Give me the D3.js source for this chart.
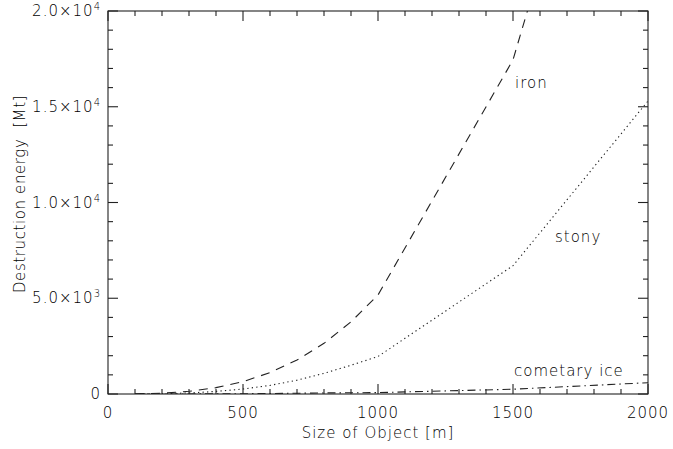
<!DOCTYPE html>
<html>
<head>
<meta charset="utf-8">
<script src="https://cdn.jsdelivr.net/npm/d3@7"></script>
<style>
  html, body { margin: 0; padding: 0; background: #fff; }
  svg text { font-family: "DejaVu Sans", sans-serif; font-weight: 200; fill: #000; letter-spacing: 1px; }
</style>
</head>
<body>
<svg id="chart" width="673" height="449"></svg>
<script>
// ---- data ----
const sizes    = [100, 200, 300, 400, 500, 600, 700, 800, 900, 1000, 1500, 2000];
const iron     = [5, 41, 140, 331, 646, 1117, 1773, 2647, 3769, 5170, 17450, 41360];
const stony    = [2, 15, 55, 135, 260, 450, 720, 1080, 1500, 1960, 6700, 15300];
const cometary = [0.5, 1, 3, 8, 15, 25, 40, 55, 65, 74, 249, 590];
const xTicks = [0, 500, 1000, 1500, 2000];
const yTicks = [0, 5000, 10000, 15000, 20000];
const yTickLabels = [["0", ""], ["5.0\u00d710", "3"], ["1.0\u00d710", "4"], ["1.5\u00d710", "4"], ["2.0\u00d710", "4"]];
const seriesNames = ["iron", "stony", "cometary ice"];

const svg = d3.select("#chart");
const L = 108, R = 648, T = 11, B = 394;
const x = d3.scaleLinear().domain([0, 2000]).range([L, R]);
const y = d3.scaleLinear().domain([0, 20000]).range([B, T]);

const axisG = svg.append("g").attr("stroke", "#222").attr("stroke-width", 1.1);
axisG.append("rect").attr("x", L).attr("y", T).attr("width", R - L).attr("height", B - T).attr("fill", "none");

const xMinor = d3.range(0, 2001, 100);
const yMinor = d3.range(0, 20001, 1000);
xMinor.forEach(v => {
  const len = v % 500 === 0 ? 10 : 5;
  axisG.append("line").attr("x1", x(v)).attr("x2", x(v)).attr("y1", B).attr("y2", B - len);
  axisG.append("line").attr("x1", x(v)).attr("x2", x(v)).attr("y1", T).attr("y2", T + len);
});
yMinor.forEach(v => {
  const len = v % 5000 === 0 ? 10 : 5;
  axisG.append("line").attr("y1", y(v)).attr("y2", y(v)).attr("x1", L).attr("x2", L + len);
  axisG.append("line").attr("y1", y(v)).attr("y2", y(v)).attr("x1", R).attr("x2", R - len);
});

xTicks.forEach(v => {
  svg.append("text").attr("x", x(v)).attr("y", 418).attr("text-anchor", "middle")
    .attr("font-size", 15).text(v);
});
yTicks.forEach((v, i) => {
  const t = svg.append("text").attr("x", 101).attr("y", y(v) + 5).attr("text-anchor", "end").attr("font-size", 15);
  t.append("tspan").text(yTickLabels[i][0]);
  if (yTickLabels[i][1]) {
    t.append("tspan").attr("font-size", 10).attr("dy", -6).text(yTickLabels[i][1]);
  }
});

svg.append("text").attr("x", x(1000)).attr("y", 438).attr("text-anchor", "middle")
  .attr("font-size", 15).text("Size of Object [m]");
svg.append("text").attr("transform", "translate(25,194) rotate(-90)").attr("text-anchor", "middle")
  .attr("font-size", 15).style("letter-spacing", "0.6px").style("white-space", "pre").text("Destruction energy  [Mt]");

svg.append("clipPath").attr("id", "plotclip").append("rect")
  .attr("x", L).attr("y", T).attr("width", R - L).attr("height", B - T);

const line = d3.line().x((d, i) => x(sizes[i])).y(d => y(d));
const styles = [
  { data: iron, dash: "9,7" },
  { data: stony, dash: "1.3,3.2" },
  { data: cometary, dash: "8,4,1.5,4" }
];
styles.forEach(s => {
  svg.append("path").attr("d", line(s.data)).attr("fill", "none")
    .attr("stroke", "#222").attr("stroke-width", 1.1)
    .attr("stroke-dasharray", s.dash).attr("clip-path", "url(#plotclip)");
});

svg.append("text").attr("x", 515).attr("y", 88).attr("font-size", 15).text(seriesNames[0]);
svg.append("text").attr("x", 555).attr("y", 242).attr("font-size", 15).text(seriesNames[1]);
svg.append("text").attr("x", 514).attr("y", 376).attr("font-size", 15).text(seriesNames[2]);
</script>
</body>
</html>
